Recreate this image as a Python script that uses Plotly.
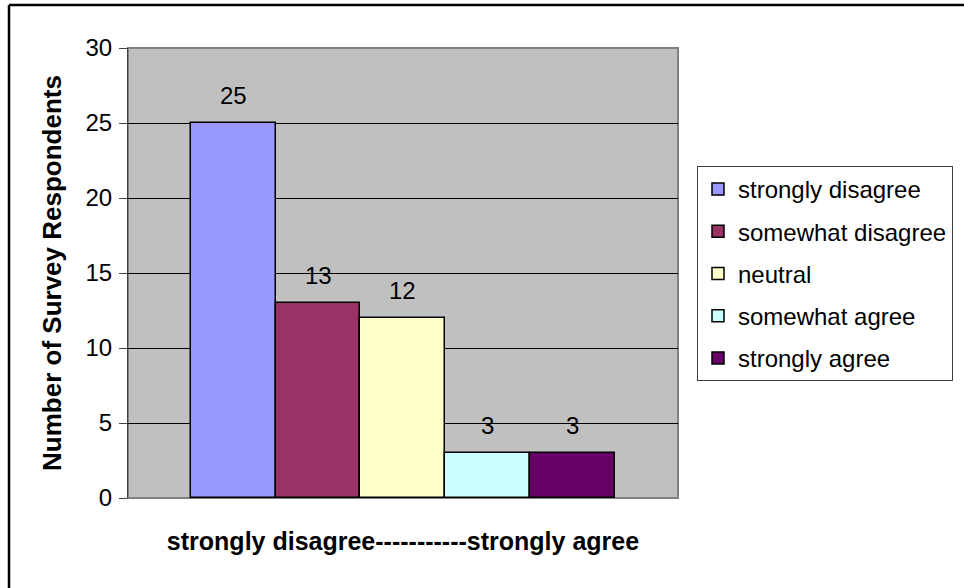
import plotly.graph_objects as go

categories = ["strongly disagree", "somewhat disagree", "neutral", "somewhat agree", "strongly agree"]
values = [25, 13, 12, 3, 3]
colors = ["#9999FF", "#993366", "#FFFFCC", "#CCFFFF", "#660066"]
y_ticks = [0, 5, 10, 15, 20, 25, 30]

W, H = 964, 588
ML, MR, MT, MB = 128, 286, 48, 90
PW, PH = W - ML - MR, H - MT - MB

def px_x(p):
    return (p - ML) / PW

def px_y(p):
    return (H - MB - p) / PH

FONT = "Liberation Sans, Arial, sans-serif"
FS = 24

fig = go.Figure()
for i, (cat, val, col) in enumerate(zip(categories, values, colors)):
    fig.add_trace(go.Bar(
        x=[i], y=[val], width=1, name=cat, legendgroup=cat,
        marker=dict(color=col, line=dict(color="black", width=1.5)),
        hoverinfo="skip",
    ))
    fig.add_annotation(x=i, y=val, text=str(val), showarrow=False,
                       yshift=28, yanchor="middle", xanchor="center",
                       font=dict(size=FS, color="black", family=FONT))

# plot-area border (gray)
fig.add_shape(type="rect", xref="paper", yref="paper", x0=0, x1=1, y0=0, y1=1,
              line=dict(color="#808080", width=2), layer="below")
# outer chart border: only left and top edges are visible in the frame
fig.add_shape(type="line", xref="paper", yref="paper",
              x0=px_x(9), x1=px_x(9), y0=px_y(H), y1=px_y(5),
              line=dict(color="black", width=2.5), layer="above")
fig.add_shape(type="line", xref="paper", yref="paper",
              x0=px_x(9), x1=px_x(W), y0=px_y(5), y1=px_y(5),
              line=dict(color="black", width=2.5), layer="above")

fig.update_layout(
    width=W, height=H,
    margin=dict(l=ML, r=MR, t=MT, b=MB, autoexpand=False),
    paper_bgcolor="white", plot_bgcolor="#C0C0C0",
    font=dict(family=FONT, color="black", size=FS),
    bargap=0, barmode="overlay",
    showlegend=True,
    legend=dict(x=px_x(697), y=px_y(166), xanchor="left", yanchor="top",
                bgcolor="white", bordercolor="#404040", borderwidth=1,
                font=dict(size=FS, family=FONT, color="black"),
                traceorder="grouped", tracegroupgap=8,
                itemwidth=30),
    xaxis=dict(range=[-1.239, 5.242], showticklabels=False, ticks="",
               showgrid=False, zeroline=False, showline=False,
               title=dict(text="<b>strongly disagree-----------strongly agree</b>",
                          font=dict(size=25, family=FONT, color="black"),
                          standoff=34)),
    yaxis=dict(range=[0, 30], tickvals=y_ticks, ticks="outside", ticklen=8,
               tickcolor="#404040", tickwidth=1, ticklabelstandoff=2,
               showgrid=True, gridcolor="black", gridwidth=1, zeroline=False,
               showline=True, linecolor="#404040", linewidth=1,
               tickfont=dict(size=FS, family=FONT, color="black"),
               title=dict(text="<b>Number of Survey Respondents</b>",
                          font=dict(size=26, family=FONT, color="black"),
                          standoff=16)),
)

fig.write_html("out.html")
